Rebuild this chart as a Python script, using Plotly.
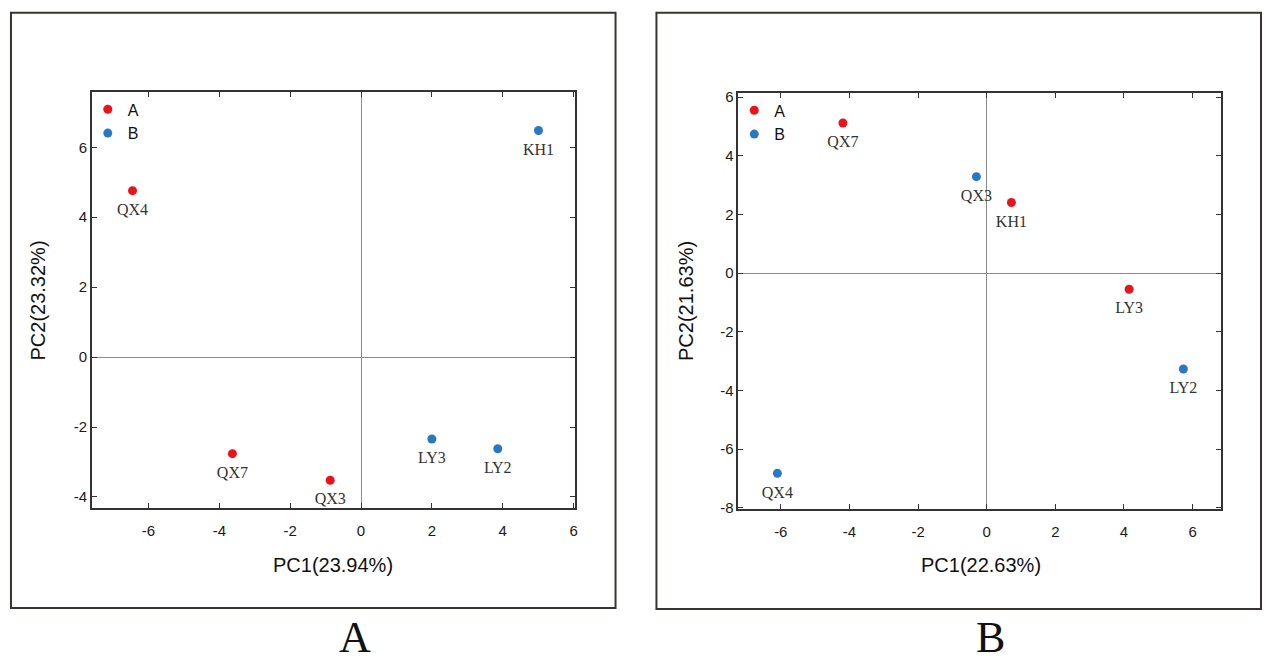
import plotly.graph_objects as go

W, H = 1269, 670

# ---------------- data ----------------
# Panel A
a_names = ["QX4", "QX7", "QX3", "KH1", "LY3", "LY2"]
a_group = ["A", "A", "A", "B", "B", "B"]
a_pc1 = [-6.45, -3.63, -0.87, 5.01, 2.00, 3.86]
a_pc2 = [4.76, -2.76, -3.52, 6.48, -2.34, -2.62]

# Panel B
b_names = ["QX7", "KH1", "LY3", "QX3", "LY2", "QX4"]
b_group = ["A", "A", "A", "B", "B", "B"]
b_pc1 = [-4.19, 0.72, 4.15, -0.30, 5.73, -6.10]
b_pc2 = [5.12, 2.41, -0.55, 3.29, -3.27, -6.83]

groups = ["A", "B"]
colors = {"A": "#e8141a", "B": "#2a77c4"}

a_xtitle, a_ytitle = "PC1(23.94%)", "PC2(23.32%)"
b_xtitle, b_ytitle = "PC1(22.63%)", "PC2(21.63%)"
x_ticks = [-6, -4, -2, 0, 2, 4, 6]
a_y_ticks = [-4, -2, 0, 2, 4, 6]
b_y_ticks = [-8, -6, -4, -2, 0, 2, 4, 6]

# ---------------- helpers ----------------
def px(x):
    return x / W

def py(y):
    return 1 - y / H

def tt(vals):
    return [str(v) for v in vals]  # plain hyphen minus as in the reference

fig = go.Figure()

panels = [
    dict(names=a_names, grp=a_group, x=a_pc1, y=a_pc2, xa="x", ya="y", leg="legend"),
    dict(names=b_names, grp=b_group, x=b_pc1, y=b_pc2, xa="x2", ya="y2", leg="legend2"),
]

for p in panels:
    # labels (invisible spacer marker pushes the text below the point)
    fig.add_trace(go.Scatter(
        x=p["x"], y=p["y"], mode="markers+text", text=p["names"],
        textposition="bottom center",
        marker=dict(size=18, color="rgba(0,0,0,0)"),
        textfont=dict(family="Liberation Serif, Times New Roman, serif", size=16, color="#333333"),
        xaxis=p["xa"], yaxis=p["ya"], showlegend=False, hoverinfo="skip",
    ))
    for g in groups:
        xs = [xv for xv, gg in zip(p["x"], p["grp"]) if gg == g]
        ys = [yv for yv, gg in zip(p["y"], p["grp"]) if gg == g]
        fig.add_trace(go.Scatter(
            x=xs, y=ys, mode="markers", name=g,
            marker=dict(color=colors[g], size=9),
            xaxis=p["xa"], yaxis=p["ya"], legend=p["leg"],
            hoverinfo="skip",
        ))

axis_common = dict(
    showgrid=False, showline=True, linecolor="#333333", linewidth=1.5, mirror="allticks",
    ticks="inside", ticklen=5, tickwidth=1.2, tickcolor="#333333",
    zeroline=True, zerolinecolor="#8a8a8a", zerolinewidth=1,
    tickfont=dict(family="Liberation Sans, Arial, sans-serif", size=15, color="#1a1a1a"),
    fixedrange=True,
)

leg_common = dict(xanchor="left", yanchor="top", bgcolor="rgba(0,0,0,0)",
                  font=dict(family="Liberation Sans, Arial, sans-serif", size=16, color="#111111"),
                  tracegroupgap=0, itemwidth=30)

fig.update_layout(
    width=W, height=H,
    margin=dict(l=0, r=0, t=0, b=0),
    paper_bgcolor="white", plot_bgcolor="white",
    xaxis=dict(domain=[px(92), px(576)], range=[-7.6, 6.03], tickvals=x_ticks, ticktext=tt(x_ticks),
               anchor="y", ticklabelstandoff=8, **axis_common),
    yaxis=dict(domain=[py(512), py(89)], range=[-4.31, 7.57], tickvals=a_y_ticks, ticktext=tt(a_y_ticks),
               anchor="x", **axis_common),
    xaxis2=dict(domain=[px(740), px(1224)], range=[-7.24, 6.83], tickvals=x_ticks, ticktext=tt(x_ticks),
                anchor="y2", ticklabelstandoff=8, **axis_common),
    yaxis2=dict(domain=[py(513), py(90)], range=[-8.04, 6.13], tickvals=b_y_ticks, ticktext=tt(b_y_ticks),
                anchor="x2", **axis_common),
    legend=dict(x=px(88), y=py(89), **leg_common),
    legend2=dict(x=px(736), y=py(90), **leg_common),
    showlegend=True,
)

# outer frames
frame = dict(type="rect", xref="paper", yref="paper", line=dict(color="#3a3431", width=2), fillcolor="rgba(0,0,0,0)")
fig.add_shape(x0=px(11), x1=px(617), y0=py(614), y1=py(8), **frame)
fig.add_shape(x0=px(658), x1=px(1264), y0=py(615), y1=py(8), **frame)

sans = dict(family="Liberation Sans, Arial, sans-serif", size=20, color="#111111")
serif_big = dict(family="Liberation Serif, Times New Roman, serif", size=44, color="#111111")

ann = []
ann.append(dict(text=a_xtitle, x=px(334), y=py(570), xref="paper", yref="paper", showarrow=False, font=sans, xanchor="center", yanchor="middle"))
ann.append(dict(text=a_ytitle, x=px(38), y=py(301), xref="paper", yref="paper", showarrow=False, font=sans, textangle=-90, xanchor="center", yanchor="middle"))
ann.append(dict(text=b_xtitle, x=px(983), y=py(570), xref="paper", yref="paper", showarrow=False, font=sans, xanchor="center", yanchor="middle"))
ann.append(dict(text=b_ytitle, x=px(687), y=py(301), xref="paper", yref="paper", showarrow=False, font=sans, textangle=-90, xanchor="center", yanchor="middle"))
ann.append(dict(text="A", x=px(356), y=0, xref="paper", yref="paper", showarrow=False, font=serif_big, xanchor="center", yanchor="bottom", borderpad=0))
ann.append(dict(text="B", x=px(993), y=0, xref="paper", yref="paper", showarrow=False, font=serif_big, xanchor="center", yanchor="bottom", borderpad=0))
fig.update_layout(annotations=ann)

fig.write_html("out.html")
